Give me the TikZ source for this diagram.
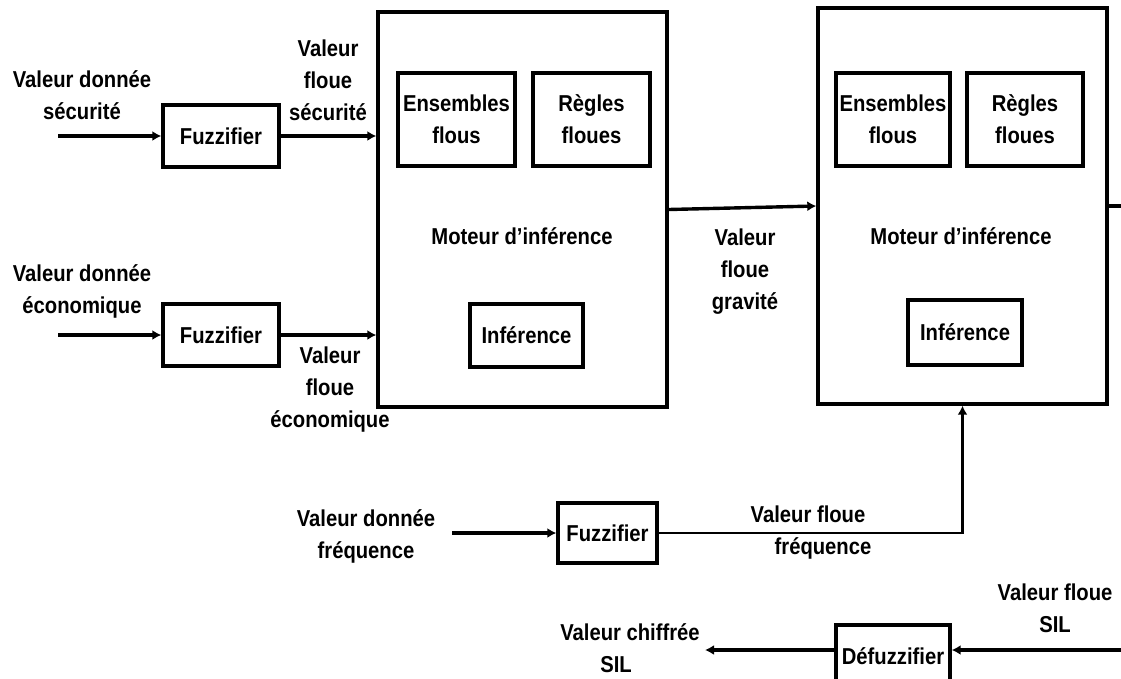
\documentclass[tikz,border=0pt]{standalone}
\usepackage{fontspec}
\setmainfont{Liberation Sans}[FakeStretch=0.88]
\usepackage{tikz}
\usetikzlibrary{arrows.meta,positioning,calc}

\begin{document}
\begin{tikzpicture}[x=1pt, y=-1pt,
  box/.style={draw, line width=3.4pt, inner sep=0pt, align=center},
  txt/.style={align=center, inner sep=0pt},
  flow/.style={-{Latex[length=9pt,width=10pt]}, line width=3.4pt},
  every node/.style={font=\bfseries\fontsize{23}{32}\selectfont}]
  \useasboundingbox (0,0) rectangle (1121,678);
  \clip (0,0) rectangle (1121,678);
  % first inference engine
  \node[box, minimum width=289pt, minimum height=395pt] (big1) at (522.5,209.5) {};
  \node[box, minimum width=117pt, minimum height=93pt] (ens1) at (456.5,119.5) {Ensembles\\flous};
  \node[box, minimum width=117pt, minimum height=93pt] (reg1) at (591.5,119.5) {Règles\\floues};
  \node[box, minimum width=113pt, minimum height=63pt] (inf1) at (526.5,335.5) {Inférence};
  \node[txt] (mot1) at (522,236) {Moteur d’inférence};
  % second inference engine
  \node[box, minimum width=289pt, minimum height=396pt] (big2) at (962.5,206) {};
  \node[box, minimum width=114pt, minimum height=93pt] (ens2) at (893,119.5) {Ensembles\\flous};
  \node[box, minimum width=116pt, minimum height=93pt] (reg2) at (1025,119.5) {Règles\\floues};
  \node[box, minimum width=114pt, minimum height=65pt] (inf2) at (965,332.5) {Inférence};
  \node[txt] (mot2) at (961,236) {Moteur d’inférence};
  % fuzzifiers
  \node[box, minimum width=116pt, minimum height=62pt] (fuz1) at (221,136) {Fuzzifier};
  \node[box, minimum width=116pt, minimum height=62pt] (fuz2) at (221,335) {Fuzzifier};
  \node[box, minimum width=99pt, minimum height=60pt] (fuz3) at (607.5,533) {Fuzzifier};
  \node[box, minimum width=114pt, minimum height=62pt] (defuz) at (893,656) {Défuzzifier};
  % free ends
  \coordinate (in1) at (58,136);
  \coordinate (in2) at (58,335);
  \coordinate (in3) at (452,533);
  \coordinate (out2) at (1121,206);
  \coordinate (silin) at (1121,650);
  \coordinate (silout) at (705,650);
  % labels
  \node[txt] (lin1) at (82,95) {Valeur donnée\\sécurité};
  \node[txt] (lfl1) at (328,80) {Valeur\\floue\\sécurité};
  \node[txt] (lin2) at (82,291) {Valeur donnée\\économique};
  \node[txt] (lfl2) at (330,390) {Valeur\\floue\\économique};
  \node[txt] (lgrav) at (745,272) {Valeur\\floue\\gravité};
  \node[txt] (lin3) at (366,536) {Valeur donnée\\fréquence};
  \node[txt] (lfl3) at (808,533) {Valeur floue\\\hspace*{30pt}fréquence};
  \node[txt] (lsil) at (1055,608) {Valeur floue\\SIL};
  \node[txt] (lchif) at (630,648) {Valeur chiffrée\\\hspace*{-28pt}SIL};
  % connectors
  \draw[flow] (in1) -- (fuz1);
  \draw[flow] (fuz1) -- (fuz1 -| big1.west);
  \draw[flow] (in2) -- (fuz2);
  \draw[flow] (fuz2) -- (fuz2 -| big1.west);
  \draw[flow] (big1.east) -- (big2.west);
  \draw[line width=3.4pt] (big2.east) -- (out2);
  \draw[flow] (in3) -- (fuz3);
  \draw[flow, line width=2.6pt] (fuz3.east) -| (big2.south);
  \draw[flow] (silin) -- (silin -| defuz.east);
  \draw[flow] (silout -| defuz.west) -- (silout);
\end{tikzpicture}
\end{document}
